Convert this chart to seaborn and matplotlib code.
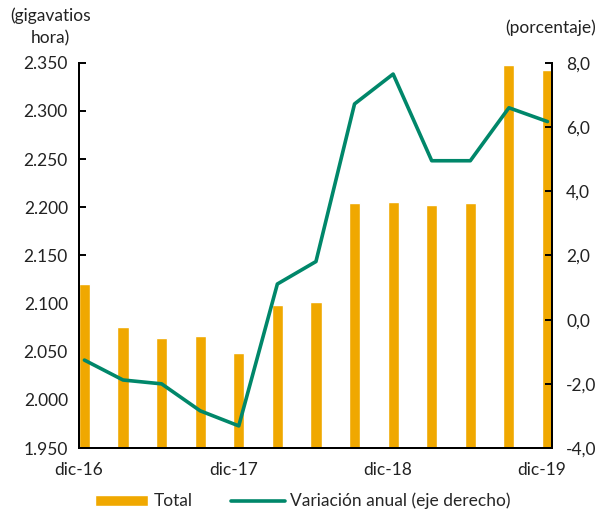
import numpy as np
import pandas as pd
import matplotlib
matplotlib.use('Agg')
import matplotlib.pyplot as plt
import seaborn as sns
from matplotlib.ticker import FuncFormatter

# Quarterly data, dic-16 .. dic-19
quarters = ['dic-16', 'mar-17', 'jun-17', 'sep-17', 'dic-17', 'mar-18', 'jun-18',
            'sep-18', 'dic-18', 'mar-19', 'jun-19', 'sep-19', 'dic-19']
total_gwh = [2120, 2076, 2064, 2066, 2049, 2099, 2102, 2204, 2206, 2202, 2204, 2348, 2343]
var_anual = [-1.26, -1.88, -2.00, -2.84, -3.31, 1.11, 1.81, 6.72, 7.65, 4.95, 4.95, 6.60, 6.17]
year_labels = ['dic-16', 'dic-17', 'dic-18', 'dic-19']

df = pd.DataFrame({'trimestre': quarters, 'total': total_gwh, 'var': var_anual})
df['pos'] = np.arange(len(df))

sns.set_style('white')
plt.rcParams['font.family'] = ['Lato', 'DejaVu Sans']
fs = 12.5

orange = '#F0A800'
green = '#00876A'

fig = plt.figure(figsize=(6.05, 5.15), dpi=100)
ax = fig.add_axes([0.1306, 0.130, 0.782, 0.748])

sns.barplot(data=df, x='pos', y='total', native_scale=True, width=0.29,
            color=orange, saturation=1, ax=ax, label='Total')
ax.set_ylim(1950, 2350)
ax.set_yticks(np.arange(1950, 2351, 50))
ax.yaxis.set_major_formatter(FuncFormatter(lambda v, p: f'{v/1000:.3f}'))

off = 0.14
ax.set_xlim(-off, 12.12)
ax.set_xticks(np.arange(0, 13, 4) - off)
ax.set_xticklabels(year_labels)
ax.set_xlabel('')
ax.set_ylabel('')

ax2 = ax.twinx()
sns.lineplot(data=df, x='pos', y='var', color=green, linewidth=2.6, ax=ax2,
             label='Variación anual (eje derecho)', legend=False)
ax2.set_ylim(-4, 8)
ax2.set_yticks(np.arange(-4, 8.1, 2))
ax2.yaxis.set_major_formatter(FuncFormatter(lambda v, p: f'{v:.1f}'.replace('.', ',')))
ax2.set_ylabel('')
ax2.set_xlim(-off, 12.12)

for a in (ax, ax2):
    for s in a.spines.values():
        s.set_color('black')
        s.set_linewidth(1.4)
    a.spines['top'].set_visible(False)
    a.tick_params(direction='in', length=5, width=1.4, colors='black',
                  labelsize=fs, labelcolor='#222222')
ax.tick_params(axis='x', pad=10)
ax.tick_params(axis='y', pad=8)
ax2.tick_params(axis='y', pad=10)

fig.text(0.083, 0.985, '(gigavatios\nhora)', ha='center', va='top', fontsize=fs,
         linespacing=1.45, color='#222222')
fig.text(0.91, 0.962, '(porcentaje)', ha='center', va='top', fontsize=fs, color='#222222')

h1, l1 = ax.get_legend_handles_labels()
h2, l2 = ax2.get_legend_handles_labels()
if ax.get_legend():
    ax.get_legend().remove()
fig.legend(h1 + h2, l1 + l2, loc='center', bbox_to_anchor=(0.5, 0.027), ncol=2,
           frameon=False, fontsize=fs, handlelength=3.1, handleheight=0.6,
           columnspacing=2.2, handletextpad=0.3)

fig.savefig('out.png', dpi=100)
